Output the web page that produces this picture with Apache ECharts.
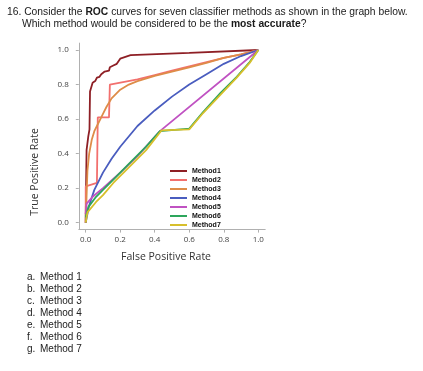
<!DOCTYPE html>
<html><head><meta charset="utf-8">
<script src="https://cdn.jsdelivr.net/npm/echarts@6/dist/echarts.min.js"></script>
<style>html,body{margin:0;padding:0;background:#fff}#c{width:423px;height:371px}</style>
</head><body><div id="c"></div>
<script>
const methodNames = ['Method1','Method2','Method3','Method4','Method5','Method6','Method7'];
const colors = ['#8e1f25','#f2706e','#de8c48','#4a5dbf','#c052c2','#2da65c','#d7bf2c'];
const m1 = [[0,0],[0.002,0.2],[0.005,0.42],[0.015,0.5],[0.022,0.54],[0.025,0.76],[0.035,0.77],[0.04,0.81],[0.055,0.82],[0.065,0.84],[0.08,0.845],[0.09,0.86],[0.1,0.87],[0.11,0.875],[0.135,0.88],[0.14,0.9],[0.16,0.91],[0.18,0.92],[0.2,0.95],[0.23,0.96],[0.26,0.97],[0.6,0.983],[1,1]];
const m2 = [[0,0],[0,0.21],[0.01,0.22],[0.065,0.23],[0.07,0.61],[0.135,0.61],[0.14,0.80],[0.3,0.83],[0.4,0.855],[0.5,0.88],[0.6,0.905],[0.7,0.93],[0.8,0.955],[0.9,0.975],[1,1]];
const m3 = [[0,0],[0.005,0.15],[0.01,0.3],[0.02,0.4],[0.035,0.48],[0.05,0.53],[0.07,0.57],[0.085,0.6],[0.1,0.63],[0.12,0.67],[0.15,0.72],[0.2,0.77],[0.25,0.8],[0.3,0.82],[0.4,0.85],[0.5,0.875],[0.6,0.9],[0.7,0.925],[0.8,0.955],[0.9,0.975],[1,1]];
const m4 = [[0,0],[0.02,0.1],[0.05,0.19],[0.1,0.29],[0.15,0.37],[0.2,0.44],[0.3,0.56],[0.4,0.65],[0.5,0.73],[0.6,0.8],[0.7,0.86],[0.8,0.92],[0.9,0.965],[1,1]];
const m5 = [[0,0.05],[0.005,0.11],[0.04,0.15],[0.1,0.2],[0.2,0.29],[0.3,0.385],[0.43,0.53],[1,1]];
const m6 = [[0,0.03],[0.015,0.09],[0.06,0.15],[0.1,0.19],[0.16,0.25],[0.25,0.34],[0.35,0.44],[0.43,0.53],[0.44,0.54],[0.6,0.545],[0.68,0.64],[0.78,0.75],[0.875,0.845],[0.95,0.93],[1,1]];
const m7 = [[0,0],[0.01,0.06],[0.06,0.12],[0.1,0.16],[0.16,0.23],[0.25,0.32],[0.35,0.42],[0.44,0.535],[0.6,0.54],[0.68,0.635],[0.78,0.74],[0.875,0.84],[0.95,0.925],[1,1]];
const tickValues = [0,0.2,0.4,0.6,0.8,1.0];
const optionLetters = ['a.','b.','c.','d.','e.','f.','g.'];
const optionTexts = ['Method 1','Method 2','Method 3','Method 4','Method 5','Method 6','Method 7'];
const allData = [m1,m2,m3,m4,m5,m6,m7];

const chart = echarts.init(document.getElementById('c'), null, {renderer:'canvas'});
const axisCol = '#b0b0b0';
const tickFont = {fontFamily:'Open Sans', fontSize:8, color:'#444'};
function axisCfg(isX){
  return {
    type:'value', min:-0.04, max:1.04,
    axisLine:{show:true, onZero:false, lineStyle:{color:axisCol, width:1}},
    axisTick:{show:true, customValues:tickValues, length:3, lineStyle:{color:axisCol}},
    axisLabel:Object.assign({show:true, customValues:tickValues, margin:isX?6:10, formatter:v=>v.toFixed(1)}, tickFont),
    splitLine:{show:false}
  };
}
const qn = {fontFamily:'Liberation Sans',fontSize:10.3,fill:'#1a1a1a'};
const qb = {fontFamily:'Liberation Sans',fontSize:10.3,fontWeight:'bold',fill:'#1a1a1a'};
const graphics = [
  {type:'text', left:7, top:7, style:{text:'{n|16. Consider the }{b|ROC}{n| curves for seven classifier methods as shown in the graph below.}', rich:{n:qn,b:qb}}},
  {type:'text', left:22, top:19, style:{text:'{n|Which method would be considered to be the }{b|most accurate}{n|?}', rich:{n:qn,b:qb}}},
  {type:'text', x:166, y:257.5, style:{text:'False Positive Rate', font:'10.5px "Open Sans"', fill:'#333', align:'center', verticalAlign:'middle'}},
  {type:'text', x:35.5, y:172, rotation:Math.PI/2, style:{text:'True Positive Rate', font:'10.5px "Open Sans"', fill:'#333', align:'center', verticalAlign:'middle'}}
];
optionLetters.forEach((l,i)=>{
  graphics.push({type:'text', x:27, y:277+12*i, style:{text:l, font:'10px "Liberation Sans"', fill:'#222', verticalAlign:'middle'}});
  graphics.push({type:'text', x:40, y:277+12*i, style:{text:optionTexts[i], font:'10px "Liberation Sans"', fill:'#222', verticalAlign:'middle'}});
});

chart.setOption({
  animation:false,
  backgroundColor:'#fff',
  grid:{left:78.8, top:43.1, width:186.4, height:186.5, containLabel:false},
  xAxis:axisCfg(true),
  yAxis:axisCfg(false),
  legend:{
    orient:'vertical', left:165, top:161.5, icon:'rect', itemWidth:17, itemHeight:2, itemGap:0,
    textStyle:{fontFamily:'Liberation Sans', fontSize:7, fontWeight:'bold', color:'#111', lineHeight:9},
    data:methodNames
  },
  series: methodNames.map((n,i)=>({
    name:n, type:'line', data:allData[i], symbol:'none', showSymbol:false,
    lineStyle:{width:1.8, color:colors[i]}, itemStyle:{color:colors[i]}, z:2+i
  })),
  graphic:graphics
});
</script></body></html>
